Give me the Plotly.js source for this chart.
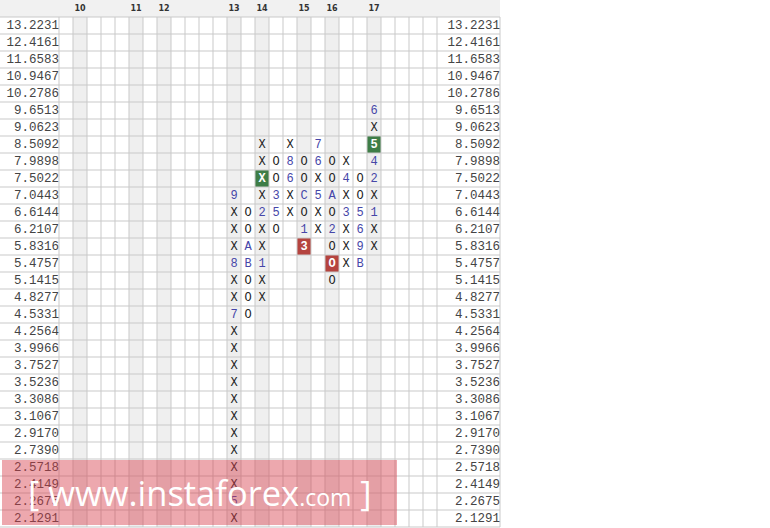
<!DOCTYPE html>
<html>
<head>
<meta charset="utf-8">
<script src="https://cdn.plot.ly/plotly-3.0.1.min.js"></script>
<style>html,body{margin:0;padding:0;background:#fff;}#chart{width:770px;height:528px;}</style>
</head>
<body>
<div id="chart"></div>
<script>
// ---- data ----
const rowLabels = ['13.2231','12.4161','11.6583','10.9467','10.2786','9.6513','9.0623','8.5092','7.9898','7.5022','7.0443','6.6144','6.2107','5.8316','5.4757','5.1415','4.8277','4.5331','4.2564','3.9966','3.7527','3.5236','3.3086','3.1067','2.9170','2.7390','2.5718','2.4149','2.2675','2.1291'];
const headerColumns = [1, 5, 7, 12, 14, 17, 19, 22];
const headerLabels = ['10', '11', '12', '13', '14', '15', '16', '17'];
const markColumns = [12, 13, 14, 15, 16, 17, 18, 19, 20, 21, 22];
const markTopPrices = ['7.0443','6.6144','8.5092','7.9898','8.5092','7.9898','8.5092','7.9898','7.9898','7.5022','9.6513'];
const col12 = ['9','X','X','X','8','X','X','7','X','X','X','X','X','X','X','X','X','X','5','X'];
const col13 = ['O','O','A','B','O','O','O'];
const col14 = ['X','X','X','X','2','X','X','1','X','X'];
const col15 = ['O','O','3','5','O'];
const col16 = ['X','8','6','X','X'];
const col17 = ['O','O','C','O','1','3'];
const col18 = ['7','6','X','5','X','X'];
const col19 = ['O','O','A','O','2','O','O','O'];
const col20 = ['X','4','X','3','X','X','X'];
const col21 = ['O','O','5','6','9','B'];
const col22 = ['6','X','5','4','2','X','1','X','X'];
const markLists = [col12, col13, col14, col15, col16, col17, col18, col19, col20, col21, col22];
const greenCols = [14, 22];
const greenPrices = ['7.5022', '8.5092'];
const redCols = [17, 19];
const redPrices = ['5.8316', '5.4757'];
const nGridCols = 27;

// ---- styles ----
const GRID = '#c9c9c9', SHADE = '#efefef', HEAD = '#f1f1f1';
const LEFT = -59/14 - 0.5, RIGHT = 31.0, XMAX = 50.286;
const rowOf = p => rowLabels.indexOf(p);
const key = (c, r) => c + '_' + r;
const hiGreen = new Set(greenCols.map((c, i) => key(c, rowOf(greenPrices[i]))));
const hiRed = new Set(redCols.map((c, i) => key(c, rowOf(redPrices[i]))));

const xo = {x: [], y: [], text: []}, num = {x: [], y: [], text: []}, hi = {x: [], y: [], text: []};
markColumns.forEach((c, i) => {
  const r0 = rowOf(markTopPrices[i]);
  markLists[i].forEach((t, k) => {
    const r = r0 + k;
    let tgt = (t === 'X' || t === 'O') ? xo : num;
    if (hiGreen.has(key(c, r)) || hiRed.has(key(c, r))) tgt = hi;
    tgt.x.push(c); tgt.y.push(r); tgt.text.push(t);
  });
});

const shapes = [];
// header band
shapes.push({type: 'rect', xref: 'x', yref: 'y', x0: LEFT, x1: RIGHT, y0: -1.6, y1: -0.5, fillcolor: HEAD, line: {width: 0}, layer: 'below'});
// shaded columns
headerColumns.forEach(c => shapes.push({type: 'rect', x0: c - 0.5, x1: c + 0.5, y0: -0.5, y1: rowLabels.length - 0.5, fillcolor: SHADE, line: {width: 0}, layer: 'below'}));
// highlight boxes
greenCols.forEach((c, i) => { const r = rowOf(greenPrices[i]); shapes.push({type: 'rect', x0: c - 0.5, x1: c + 0.5, y0: r - 0.5, y1: r + 0.5, fillcolor: '#3e7d47', line: {width: 0}, layer: 'below'}); });
redCols.forEach((c, i) => { const r = rowOf(redPrices[i]); shapes.push({type: 'rect', x0: c - 0.5, x1: c + 0.5, y0: r - 0.5, y1: r + 0.5, fillcolor: '#b5443f', line: {width: 0}, layer: 'below'}); });
// horizontal grid lines
for (let r = 0; r <= rowLabels.length; r++) shapes.push({type: 'line', x0: LEFT, x1: RIGHT, y0: r - 0.5, y1: r - 0.5, line: {color: GRID, width: 1}, layer: 'below'});
// vertical grid lines
for (let c = 0; c <= nGridCols; c++) shapes.push({type: 'line', x0: c - 0.5, x1: c - 0.5, y0: -0.5, y1: rowLabels.length - 0.5, line: {color: GRID, width: 1}, layer: 'below'});
shapes.push({type: 'line', x0: RIGHT, x1: RIGHT, y0: -0.5, y1: rowLabels.length - 0.5, line: {color: GRID, width: 1}, layer: 'below'});
// watermark
shapes.push({type: 'rect', xref: 'paper', yref: 'paper', x0: 2/770, x1: 397/770, y0: 1 - 525/528, y1: 1 - 460/528, fillcolor: 'rgba(214,62,76,0.45)', line: {width: 0}, layer: 'above'});

const rowIdx = rowLabels.map((_, i) => i);
const mono = 'Liberation Mono, Courier New, monospace';
const traces = [
  {type: 'scatter', mode: 'text', x: rowIdx.map(() => -0.5), y: rowIdx, text: rowLabels, textposition: 'middle left', textfont: {family: mono, size: 12.5, color: '#444444'}, hoverinfo: 'skip', cliponaxis: false},
  {type: 'scatter', mode: 'text', x: rowIdx.map(() => RIGHT), y: rowIdx, text: rowLabels, textposition: 'middle left', textfont: {family: mono, size: 12.5, color: '#444444'}, hoverinfo: 'skip', cliponaxis: false},
  {type: 'scatter', mode: 'text', x: headerColumns, y: headerColumns.map(() => -1.0), text: headerLabels, textposition: 'middle center', textfont: {family: 'DejaVu Sans', size: 8, color: '#333', weight: 'bold'}, hoverinfo: 'skip'},
  {type: 'scatter', mode: 'text', x: xo.x, y: xo.y, text: xo.text, textposition: 'middle center', textfont: {family: mono, size: 12, color: '#222'}, hoverinfo: 'skip'},
  {type: 'scatter', mode: 'text', x: num.x, y: num.y, text: num.text, textposition: 'middle center', textfont: {family: mono, size: 12, color: '#4646a8'}, hoverinfo: 'skip'},
  {type: 'scatter', mode: 'text', x: hi.x, y: hi.y, text: hi.text, textposition: 'middle center', textfont: {family: mono, size: 12, color: '#ffffff', weight: 'bold'}, hoverinfo: 'skip'}
];

const layout = {
  width: 770, height: 528,
  margin: {l: 0, r: 0, t: 0, b: 0, pad: 0},
  paper_bgcolor: '#fff', plot_bgcolor: 'rgba(0,0,0,0)',
  showlegend: false,
  xaxis: {range: [LEFT, XMAX], visible: false, fixedrange: true},
  yaxis: {range: [29.559, -1.5], visible: false, fixedrange: true},
  shapes: shapes,
  annotations: [{xref: 'paper', yref: 'paper', x: 200/770, y: 1 - 492/528, xanchor: 'center', yanchor: 'middle', showarrow: false,
    text: "[ www.instaforex<span style='font-size:23px'>.com</span> ]", font: {family: 'Open Sans', size: 34.5, color: '#ffffff'}}]
};
Plotly.newPlot('chart', traces, layout, {displayModeBar: false, staticPlot: true});
</script>
</body>
</html>
